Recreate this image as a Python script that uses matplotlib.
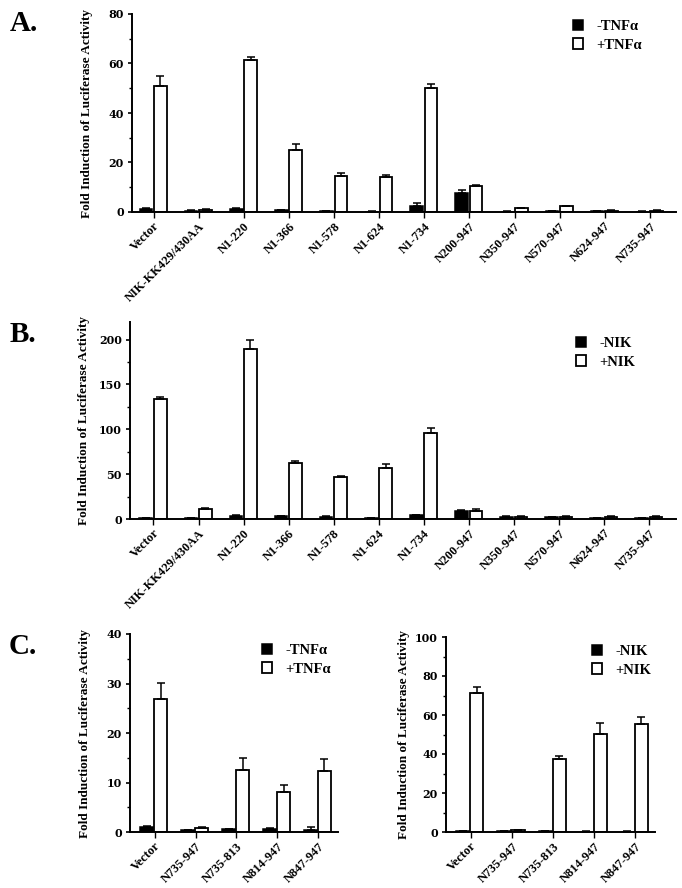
"""Fold induction of luciferase activity for NIK deletion mutants (panels A, B, C)."""

import matplotlib

matplotlib.use("Agg")
import matplotlib.pyplot as plt
import numpy as np
from matplotlib.ticker import MultipleLocator

# ---- data ----
full_labels = [
    "Vector",
    "NIK-KK429/430AA",
    "N1-220",
    "N1-366",
    "N1-578",
    "N1-624",
    "N1-734",
    "N200-947",
    "N350-947",
    "N570-947",
    "N624-947",
    "N735-947",
]

a_minus = [1.2, 0.5, 1.3, 0.7, 0.4, 0.2, 2.6, 7.6, 0.2, 0.3, 0.3, 0.2]
a_minus_err = [0.3, 0.2, 0.3, 0.2, 0.1, 0.1, 1.2, 1.3, 0.1, 0.1, 0.1, 0.1]
a_plus = [51.1, 1.0, 61.3, 25.1, 14.4, 14.0, 50.2, 10.4, 1.5, 2.4, 0.6, 0.6]
a_plus_err = [3.8, 0.3, 1.3, 2.4, 1.2, 0.8, 1.6, 0.6, 0.3, 0.2, 0.3, 0.2]

b_minus = [1.0, 1.0, 3.5, 3.0, 2.5, 1.0, 4.0, 9.3, 2.5, 2.0, 0.8, 1.0]
b_minus_err = [0.5, 0.5, 0.8, 0.6, 0.5, 0.3, 0.8, 1.0, 0.6, 0.5, 0.3, 0.3]
b_plus = [134.0, 11.2, 190.0, 62.6, 47.0, 56.6, 96.0, 8.6, 2.5, 2.5, 2.0, 2.5]
b_plus_err = [1.5, 1.0, 10.0, 2.5, 0.8, 5.2, 5.0, 3.0, 1.0, 1.0, 0.8, 0.8]

c_labels = ["Vector", "N735-947", "N735-813", "N814-947", "N847-947"]

c1_minus = [1.1, 0.4, 0.6, 0.7, 0.5]
c1_minus_err = [0.1, 0.1, 0.1, 0.1, 0.6]
c1_plus = [26.8, 0.9, 12.5, 8.1, 12.3]
c1_plus_err = [3.3, 0.2, 2.4, 1.3, 2.5]

c2_minus = [0.5, 0.3, 0.3, 0.2, 0.2]
c2_minus_err = [0.1, 0.1, 0.1, 0.1, 0.1]
c2_plus = [71.2, 0.8, 37.5, 50.3, 55.5]
c2_plus_err = [3.1, 0.2, 1.4, 5.7, 3.7]

TNF_LEGEND = ["-TNF\u03b1", "+TNF\u03b1"]
NIK_LEGEND = ["-NIK", "+NIK"]

W, H = 682, 888
SERIF = ["Liberation Serif", "DejaVu Serif"]
NUMFONT = ["DejaVu Serif"]


def fig_rect(left, top, right, bottom):
    return [left / W, 1 - bottom / H, (right - left) / W, (bottom - top) / H]


def draw_panel(fig, rect, labels, minus, minus_err, plus, plus_err, *,
               ylim, major, xlim, offsets, width, legend, legend_xy, ylabel_dx):
    ax = fig.add_axes(rect)
    x = np.arange(len(labels))
    zeros = np.zeros(len(labels))
    err_kw = dict(ecolor="black", elinewidth=1.1, capsize=2.6, capthick=1.1)
    b1 = ax.bar(x + offsets[0], minus, width, color="black", edgecolor="black",
                linewidth=1.1, yerr=[zeros, minus_err], error_kw=err_kw, zorder=2)
    b2 = ax.bar(x + offsets[1], plus, width, color="white", edgecolor="black",
                linewidth=1.3, yerr=[zeros, plus_err], error_kw=err_kw, zorder=2)

    ax.set_xlim(*xlim)
    ax.set_ylim(*ylim)
    ax.yaxis.set_major_locator(MultipleLocator(major))
    ax.yaxis.set_minor_locator(MultipleLocator(major / 2))
    for side in ("top", "right"):
        ax.spines[side].set_visible(False)
    for side in ("left", "bottom"):
        ax.spines[side].set_linewidth(1.4)
    ax.tick_params(axis="y", which="major", length=3, width=1.2, pad=3)
    ax.tick_params(axis="y", which="minor", length=2.5, width=1.0)
    ax.tick_params(axis="x", length=4, width=1.0, pad=2)

    ax.set_xticks(x)
    ax.set_xticklabels(labels, rotation=45, ha="right", rotation_mode="anchor",
                       family=SERIF, fontweight="bold", fontsize=9)
    for t in ax.get_yticklabels():
        t.set_family(NUMFONT)
        t.set_fontweight("bold")
        t.set_fontsize(8)

    ax.set_ylabel("Fold Induction of Luciferase Activity", family=SERIF,
                  fontweight="bold", fontsize=9.5)
    ax_w = rect[2] * W
    ax.yaxis.set_label_coords(ylabel_dx / ax_w, 0.5)

    ax.legend([b1, b2], legend, loc="upper left",
              bbox_to_anchor=(legend_xy[0] / W, 1 - legend_xy[1] / H),
              bbox_transform=fig.transFigure, frameon=False, borderpad=0,
              borderaxespad=0, handlelength=0.7, handleheight=0.7,
              handletextpad=0.9, labelspacing=0.35,
              prop=dict(family=SERIF, weight="bold", size=10.5))
    return ax


fig = plt.figure(figsize=(W / 100, H / 100), dpi=100)

draw_panel(fig, fig_rect(132, 14, 676, 212), full_labels,
           a_minus, a_minus_err, a_plus, a_plus_err,
           ylim=(0, 80), major=20, xlim=(-0.48, 11.58), offsets=(-0.17, 0.15),
           width=0.28, legend=TNF_LEGEND, legend_xy=(573, 20), ylabel_dx=-39)

draw_panel(fig, fig_rect(130, 321.7, 676, 519), full_labels,
           b_minus, b_minus_err, b_plus, b_plus_err,
           ylim=(0, 220), major=50, xlim=(-0.52, 11.59), offsets=(-0.17, 0.15),
           width=0.28, legend=NIK_LEGEND, legend_xy=(576, 337), ylabel_dx=-40)

draw_panel(fig, fig_rect(130, 634, 338, 832), c_labels,
           c1_minus, c1_minus_err, c1_plus, c1_plus_err,
           ylim=(0, 40), major=10, xlim=(-0.6, 4.48), offsets=(-0.19, 0.15),
           width=0.32, legend=TNF_LEGEND, legend_xy=(262, 644), ylabel_dx=-39)

draw_panel(fig, fig_rect(446, 637, 655, 832), c_labels,
           c2_minus, c2_minus_err, c2_plus, c2_plus_err,
           ylim=(0, 100), major=20, xlim=(-0.6, 4.48), offsets=(-0.19, 0.15),
           width=0.32, legend=NIK_LEGEND, legend_xy=(592, 645), ylabel_dx=-36)

for letter, (lx, ly) in {"A.": (10, 31), "B.": (10, 342), "C.": (9, 654)}.items():
    fig.text(lx / W, 1 - ly / H, letter, family=SERIF, fontweight="bold",
             fontsize=21, va="baseline", ha="left")

fig.savefig("out.png", dpi=100)
